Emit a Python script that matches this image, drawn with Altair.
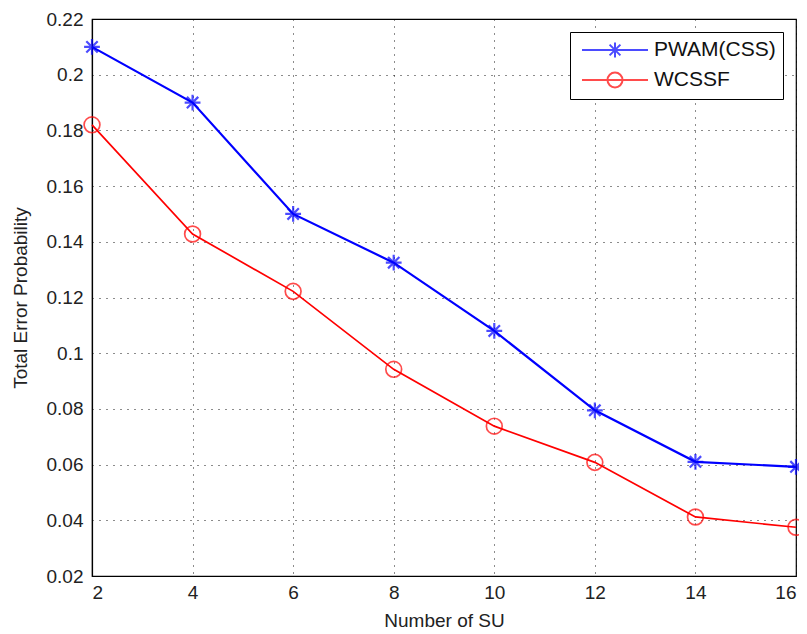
import altair as alt
import pandas as pd

x_vals = [2, 4, 6, 8, 10, 12, 14, 16]
pwam = [0.210, 0.190, 0.150, 0.1325, 0.108, 0.0795, 0.0610, 0.0592]
wcssf = [0.182, 0.1428, 0.1222, 0.0942, 0.0738, 0.0608, 0.0412, 0.0375]
series_names = ["PWAM(CSS)", "WCSSF"]
y_ticks = [0.02, 0.04, 0.06, 0.08, 0.10, 0.12, 0.14, 0.16, 0.18, 0.20, 0.22]
x_ticks = [2, 4, 6, 8, 10, 12, 14, 16]

rows = []
for xv, yv in zip(x_vals, pwam):
    rows.append({"su": xv, "p": yv, "s": series_names[0]})
for xv, yv in zip(x_vals, wcssf):
    rows.append({"su": xv, "p": yv, "s": series_names[1]})
df = pd.DataFrame(rows)

star = "M-1,0L1,0M0,-1L0,1M-0.72,-0.72L0.72,0.72M-0.72,0.72L0.72,-0.72"
circ = "M1,0A1,1 0 1,1 -1,0A1,1 0 1,1 1,0"

# legend glyphs: a line segment with the marker at its middle (unit = 10px)
c = 2.7
r = 0.75
k = round(r * 0.72, 3)
star_leg = (f"M-0.6,0L6.0,0M{c},-{r}L{c},{r}M{c - k:.3f},-{k}L{c + k:.3f},{k}"
            f"M{c - k:.3f},{k}L{c + k:.3f},-{k}")
circ_leg = f"M-0.6,0L6.0,0M{c + r},0A{r},{r} 0 1,1 {c - r},0A{r},{r} 0 1,1 {c + r},0"

colors = ["#0000ff", "#ff0000"]
widths = [2.2, 1.7]

legend = alt.Legend(
    title=None,
    orient="top-right",
    offset=13,
    symbolSize=400,
    symbolStrokeWidth=2,
    symbolFillColor="transparent",
    labelFont="Liberation Sans",
    labelFontSize=21,
    labelColor="#111111",
    labelOffset=55,
    padding=7,
    rowPadding=6,
    strokeColor="black",
    fillColor="white",
)

base = alt.Chart(df)
x_enc = alt.X("su:Q", scale=alt.Scale(domain=[2, 16], nice=False),
              axis=alt.Axis(values=x_ticks, title="Number of SU", format="d"))
y_enc = alt.Y("p:Q", scale=alt.Scale(domain=[0.02, 0.22], nice=False),
              axis=alt.Axis(values=y_ticks, title="Total Error Probability", format="~g"))

lines = base.mark_line().encode(
    x=x_enc, y=y_enc,
    color=alt.Color("s:N", scale=alt.Scale(domain=series_names, range=colors), legend=None),
    strokeWidth=alt.StrokeWidth("s:N", scale=alt.Scale(domain=series_names, range=widths), legend=None),
)
points = base.mark_point(filled=False, size=250).encode(
    x="su:Q", y="p:Q",
    color=alt.Color("s:N", scale=alt.Scale(domain=series_names, range=colors), legend=None),
    shape=alt.Shape("s:N", scale=alt.Scale(domain=series_names, range=[star, circ]), legend=None),
    strokeWidth=alt.StrokeWidth("s:N", scale=alt.Scale(domain=series_names, range=widths), legend=None),
)
legend_layer = base.transform_filter("datum.su < 0").mark_point(filled=False).encode(
    x="su:Q", y="p:Q",
    color=alt.Color("s:N", scale=alt.Scale(domain=series_names, range=colors), legend=legend),
    shape=alt.Shape("s:N", scale=alt.Scale(domain=series_names, range=[star_leg, circ_leg]), legend=legend),
)

chart = alt.layer(lines, points, legend_layer).resolve_scale(
    color="independent", shape="independent"
).properties(
    width=704, height=557,
    autosize=alt.AutoSizeParams(type="none"),
    padding={"left": 84, "top": 11, "right": 3, "bottom": 58},
    background="white",
).configure_view(
    stroke="black", strokeWidth=1.2
).configure_axis(
    labelFont="Liberation Sans", labelFontSize=19, labelColor="#222222",
    titleFont="Liberation Sans", titleFontSize=19, titleFontWeight="normal", titleColor="#222222",
    domainColor="black", domainWidth=1.2,
    tickSize=0,
    grid=True, gridColor="black", gridDash=[1, 6], gridWidth=1, gridOpacity=0.9,
).configure_axisX(
    labelPadding=7, titlePadding=9,
).configure_axisY(
    labelPadding=9, titlePadding=16,
)

chart.save("out.html", embed_options={"renderer": "svg", "actions": False})
